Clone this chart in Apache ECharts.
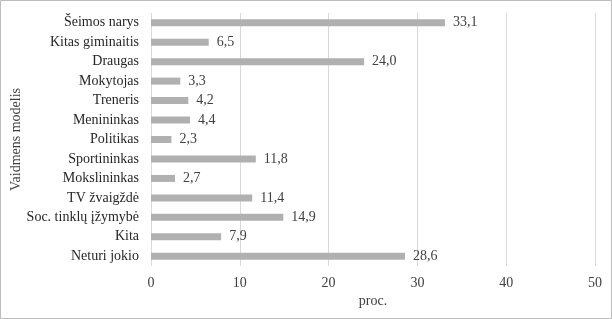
<!DOCTYPE html>
<html>
<head>
<meta charset="utf-8">
<script src="https://cdn.jsdelivr.net/npm/echarts@6/dist/echarts.min.js"></script>
<style>
html,body{margin:0;padding:0;background:#fff;}
#c{width:612px;height:319px;}
</style>
</head>
<body>
<div id="c"></div>
<script>
const categories = ["Šeimos narys","Kitas giminaitis","Draugas","Mokytojas","Treneris","Menininkas","Politikas","Sportininkas","Mokslininkas","TV žvaigždė","Soc. tinklų įžymybė","Kita","Neturi jokio"];
const values = [33.1,6.5,24.0,3.3,4.2,4.4,2.3,11.8,2.7,11.4,14.9,7.9,28.6];
const xTicks = [0,10,20,30,40,50];

const font = '"Liberation Serif","Times New Roman",serif';
const chart = echarts.init(document.getElementById('c'), null, {renderer:'canvas'});
chart.setOption({
  animation:false,
  backgroundColor:'#fff',
  graphic:[{type:'rect',shape:{x:0.5,y:0.5,width:611,height:318},style:{fill:'none',stroke:'#bcbcbc',lineWidth:1},silent:true}],
  grid:{left:151,right:17,top:13,bottom:53,containLabel:false,outerBoundsMode:'none'},
  xAxis:{
    type:'value',min:xTicks[0],max:xTicks[xTicks.length-1],interval:10,
    name:'proc.',nameLocation:'middle',nameGap:28,nameMoveOverlap:false,
    nameTextStyle:{fontFamily:font,fontSize:14,color:'#404040'},
    axisLine:{show:false},axisTick:{show:false},
    axisLabel:{fontFamily:font,fontSize:14,color:'#404040',margin:10},
    splitLine:{show:true,lineStyle:{color:'#d9d9d9',width:1}}
  },
  yAxis:{
    type:'category',data:categories,inverse:true,
    name:'Vaidmens modelis',nameLocation:'middle',nameGap:128,nameRotate:90,nameMoveOverlap:false,
    nameTextStyle:{fontFamily:font,fontSize:14,color:'#404040'},
    axisLine:{show:false},axisTick:{show:false},
    axisLabel:{fontFamily:font,fontSize:14,color:'#262626',margin:12}
  },
  series:[{
    type:'bar',data:values,barWidth:7,
    itemStyle:{color:'#b0b0b0'},
    label:{show:true,position:'right',distance:8,fontFamily:font,fontSize:14,color:'#404040',
      formatter:p=>p.value.toFixed(1).replace('.',',')}
  }]
});
</script>
</body>
</html>
